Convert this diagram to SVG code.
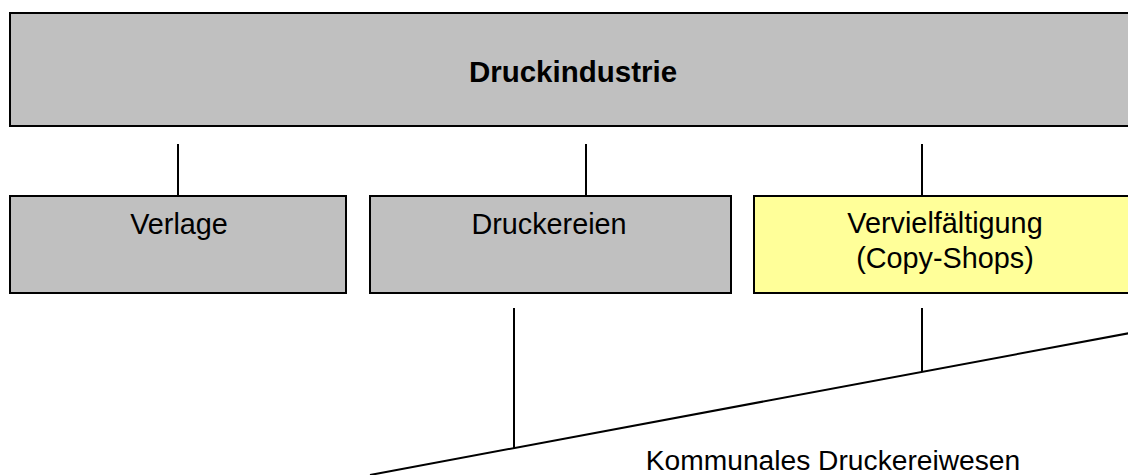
<svg xmlns="http://www.w3.org/2000/svg" width="1128" height="475" viewBox="0 0 1128 475">
<style>
.box{fill:#c0c0c0;stroke:#000;stroke-width:2}
.yel{fill:#ffff99;stroke:#000;stroke-width:2}
.ln{stroke:#000;stroke-width:2;fill:none}
text{font-family:"Liberation Sans",Arial,sans-serif;font-size:28.8px;fill:#000;text-anchor:middle}
.b{font-weight:bold;font-size:29.5px}
.k{font-size:28.2px}
</style>
<rect width="1128" height="475" fill="#fff"/>
<g id="druckindustrie">
<rect class="box" x="10" y="13" width="1140" height="113"/>
<text class="b" x="573" y="82">Druckindustrie</text>
</g>
<g id="verlage">
<rect class="box" x="10" y="196" width="336" height="97"/>
<text x="179" y="234">Verlage</text>
</g>
<g id="druckereien">
<rect class="box" x="370" y="196" width="361" height="97"/>
<text x="549" y="234">Druckereien</text>
</g>
<g id="vervielfaeltigung">
<rect class="yel" x="754" y="196" width="390" height="97"/>
<text x="945" y="233">Vervielfältigung</text>
<text x="945" y="268">(Copy-Shops)</text>
</g>
<g id="kommunal">
<text class="k" x="833" y="470">Kommunales Druckereiwesen</text>
</g>
<g id="connectors">
<line class="ln" x1="178" y1="144" x2="178" y2="196"/>
<line class="ln" x1="586" y1="144" x2="586" y2="196"/>
<line class="ln" x1="922" y1="144" x2="922" y2="196"/>
<line class="ln" x1="514" y1="308" x2="514" y2="448"/>
<line class="ln" x1="922" y1="308" x2="922" y2="372"/>
<line class="ln" x1="370" y1="475" x2="1130" y2="333"/>
</g>
</svg>
